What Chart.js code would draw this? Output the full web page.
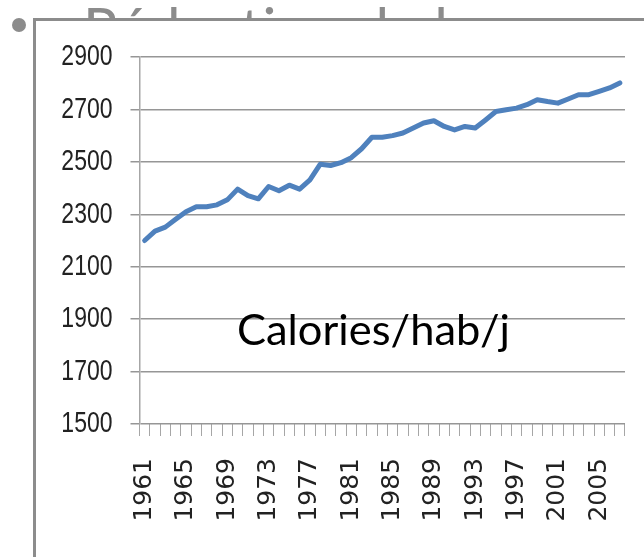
<!DOCTYPE html>
<html>
<head>
<meta charset="utf-8">
<script src="https://cdn.jsdelivr.net/npm/chart.js@4"></script>
<style>
  html, body { margin: 0; padding: 0; background: #fff; overflow: hidden; }
  body { width: 644px; height: 557px; position: relative; }
  #back, #front { position: absolute; left: 0; top: 0; }
  #back { z-index: 0; }
  #box { position: absolute; left: 33px; top: 18px; width: 700px; height: 700px;
         border: 3px solid #8c8c8c; background: #fff; z-index: 1; }
  #myChart { position: absolute; left: 36px; top: 21px; z-index: 2; }
  #front { z-index: 3; pointer-events: none; }
</style>
</head>
<body>
<svg id="back" width="644" height="557">
  <circle cx="19" cy="25" r="7" fill="#8c8c8c"></circle>
  <text x="83" y="50" font-family="Lato, 'Open Sans', sans-serif" font-size="58" fill="#8c8c8c">Réduction de la</text>
</svg>
<div id="box"></div>
<canvas id="myChart" width="608" height="536"></canvas>
<svg id="front" width="644" height="557">
  <text x="237" y="345" font-family="Lato, 'Open Sans', sans-serif" font-size="42" fill="#000"
        textLength="273" lengthAdjust="spacingAndGlyphs">Calories/hab/j</text>
</svg>
<script>
window.onload = () => {
    // années 1961 -> 2007
    let years = []
    for (let y = 1961; y <= 2007; y++) years.push(String(y))

    let calories = [2200, 2236, 2251, 2281, 2310, 2329, 2329, 2336, 2355, 2396,
                    2371, 2359, 2406, 2390, 2411, 2396, 2431, 2491, 2486, 2497,
                    2516, 2550, 2594, 2594, 2600, 2610, 2629, 2648, 2657, 2635,
                    2622, 2635, 2629, 2660, 2692, 2699, 2705, 2718, 2737, 2730,
                    2724, 2740, 2756, 2756, 2769, 2782, 2801]

    let yMin = 1500
    let yMax = 2900
    let yStep = 200

    const ctx = document.getElementById('myChart');

    // y labels are drawn a bit stretched, like in the picture
    const yLabels = {
        id: 'yLabels',
        afterDraw(chart) {
            const s = chart.scales.y
            const c = chart.ctx
            c.save()
            c.fillStyle = '#222'
            c.font = "23px 'Liberation Sans', Arial, sans-serif"
            c.textAlign = 'right'
            c.textBaseline = 'middle'
            s.ticks.forEach(t => {
                const py = s.getPixelForValue(t.value)
                c.save()
                c.translate(s.right - 9 - 18, py)
                c.scale(1, 1.3)
                c.fillText(String(t.value), 0, 0)
                c.restore()
            })
            c.restore()
        }
    }

    const data = {
        labels: years,
        datasets: [{
            label: 'Calories/hab/j',
            data: calories,
            fill: false,
            borderColor: '#4f81bd',
            borderWidth: 5,
            pointRadius: 0,
            pointHitRadius: 0,
            tension: 0,
            borderJoinStyle: 'round',
            borderCapStyle: 'round'
        }]
    };

    const config = {
        type: 'line',
        data: data,
        plugins: [yLabels],
        options: {
            responsive: false,
            animation: false,
            devicePixelRatio: 1,
            layout: { padding: { top: 36, right: 19, left: 0, bottom: 0 } },
            plugins: {
                legend: { display: false },
                tooltip: { enabled: false }
            },
            scales: {
                x: {
                    offset: true,
                    grid: {
                        offset: true,
                        drawOnChartArea: false,
                        drawTicks: true,
                        tickLength: 12,
                        tickColor: '#a6a6a6',
                        lineWidth: 1
                    },
                    border: { display: false },
                    ticks: {
                        autoSkip: false,
                        minRotation: 90,
                        maxRotation: 90,
                        padding: 22,
                        color: '#222',
                        font: { family: "'DejaVu Sans', sans-serif", size: 25 },
                        callback: function (val, i) { return i % 4 === 0 ? years[i] : '' }
                    },
                    afterFit: (scale) => {
                        scale.height = 133
                        scale.paddingLeft = 0
                        scale.paddingRight = 0
                    }
                },
                y: {
                    min: yMin,
                    max: yMax,
                    grid: {
                        color: '#969696',
                        lineWidth: 1.5,
                        drawTicks: true,
                        tickLength: 9,
                        tickColor: '#969696'
                    },
                    border: { display: true, color: '#a6a6a6', width: 1.5 },
                    ticks: {
                        stepSize: yStep,
                        display: false
                    },
                    afterFit: (scale) => { scale.width = 103.5 }
                }
            }
        }
    };

    new Chart(ctx, config)
}
</script>
</body>
</html>
